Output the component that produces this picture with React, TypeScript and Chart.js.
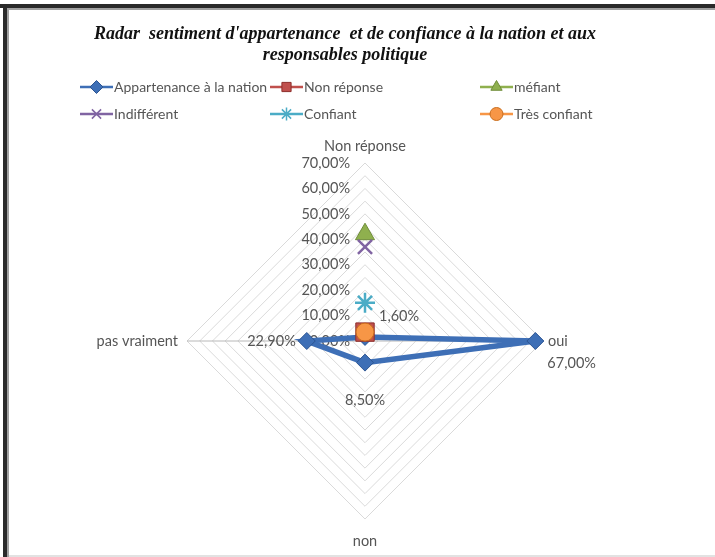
import React, { useEffect, useRef } from 'react';
import { Chart, registerables } from 'chart.js';
import { drawPoint } from 'chart.js/helpers';

Chart.register(...registerables);

const titleLines = [
  "Radar  sentiment d'appartenance  et de confiance à la nation et aux",
  'responsables politique',
];
const categories = ['Non réponse', 'oui', 'non', 'pas vraiment'];
const seriesLabels = [
  'Appartenance à la nation',
  'Non réponse',
  'méfiant',
  'Indifférent',
  'Confiant',
  'Très confiant',
];
const appartenance = [1.6, 67, 8.5, 22.9];
const nonReponse = [3.5, null, null, null];
const mefiant = [42, null, null, null];
const indifferent = [37, null, null, null];
const confiant = [15, null, null, null];
const tresConfiant = [3.5, null, null, null];
const tickValues = [0, 10, 20, 30, 40, 50, 60, 70];

const colors = ['#3e6fb6', '#c0504d', '#8fb04e', '#8064a2', '#4bacc6', '#f79646'];
const borders = ['#2c5592', '#8e2f2c', '#6f8c3a', '#5c4578', '#2f8aa3', '#c96d1c'];
const styles = ['rectRot', 'rect', 'triangle', 'crossRot', 'star', 'circle'];
const radii = [8.5, 13, 11, 10, 10, 9];

const fmt = (v: number) => v.toFixed(2).replace('.', ',') + '%';
const FONT = 'Lato, "Open Sans", sans-serif';
const TEXT = '#555555';
const FS = 14.5;
const LFS = 14;

const decorPlugin = {
  id: 'decor',
  beforeDatasetsDraw(chart: any) {
    const ctx = chart.ctx;
    const s = chart.scales.r;
    ctx.save();
    ctx.font = `${FS}px ${FONT}`;
    ctx.fillStyle = TEXT;
    ctx.textAlign = 'right';
    ctx.textBaseline = 'middle';
    tickValues.forEach((v) => {
      const d = s.getDistanceFromCenterForValue(v);
      ctx.fillText(fmt(v), s.xCenter - 15, s.yCenter - d);
    });
    // point labels
    const r = s.drawingArea;
    const p0 = s.getPointPosition(0, r + 17);
    ctx.textAlign = 'center';
    ctx.fillText(categories[0], p0.x, p0.y);
    const p1 = s.getPointPosition(1, r + 5);
    ctx.textAlign = 'left';
    ctx.fillText(categories[1], p1.x, p1.y);
    const p2 = s.getPointPosition(2, r + 22);
    ctx.textAlign = 'center';
    ctx.fillText(categories[2], p2.x, p2.y);
    const p3 = s.getPointPosition(3, r + 9);
    ctx.textAlign = 'right';
    ctx.fillText(categories[3], p3.x, p3.y);
    ctx.restore();
  },
  afterDraw(chart: any) {
    const ctx = chart.ctx;
    ctx.save();
    // title
    ctx.font = `italic bold 18px "Liberation Serif", serif`;
    ctx.fillStyle = '#111';
    ctx.textAlign = 'center';
    ctx.textBaseline = 'middle';
    ctx.fillText(titleLines[0], 345, 34);
    ctx.fillText(titleLines[1], 345, 55);
    // data labels for first series
    const meta = chart.getDatasetMeta(0);
    ctx.font = `${FS}px ${FONT}`;
    ctx.fillStyle = TEXT;
    const offs = [
      [14, -21, 'left'],
      [12, 22, 'left'],
      [0, 38, 'center'],
      [-11, 0, 'right'],
    ];
    meta.data.forEach((pt: any, i: number) => {
      const [dx, dy, al] = offs[i] as [number, number, CanvasTextAlign];
      ctx.textAlign = al;
      ctx.fillText(fmt(appartenance[i]), pt.x + dx, pt.y + dy);
    });
    // legend
    const cols = [80, 270, 480];
    const rows = [87, 114];
    ctx.font = `${LFS}px ${FONT}`;
    ctx.textAlign = 'left';
    chart.data.datasets.forEach((ds: any, i: number) => {
      const x = cols[i % 3];
      const y = rows[Math.floor(i / 3)];
      ctx.strokeStyle = colors[i];
      ctx.lineWidth = 2.5;
      ctx.beginPath();
      ctx.moveTo(x, y);
      ctx.lineTo(x + 33, y);
      ctx.stroke();
      const thin = styles[i] === 'crossRot' || styles[i] === 'star';
      ctx.fillStyle = colors[i];
      ctx.strokeStyle = thin ? colors[i] : borders[i];
      ctx.lineWidth = thin ? 1.5 : 1;
      drawPoint(ctx, { pointStyle: styles[i], radius: 6.5, rotation: 0, borderWidth: ctx.lineWidth }, x + 16.5, y);
      ctx.fillStyle = TEXT;
      ctx.fillText(ds.label, x + 34, y);
    });
    ctx.restore();
  },
};

export default function App() {
  const ref = useRef<HTMLCanvasElement | null>(null);
  useEffect(() => {
    if (!ref.current) return;
    const series = [appartenance, nonReponse, mefiant, indifferent, confiant, tresConfiant];
    const chart = new Chart(ref.current, {
      type: 'radar',
      data: {
        labels: categories,
        datasets: series.map((d, i) => {
          const thin = styles[i] === 'crossRot' || styles[i] === 'star';
          return {
            label: seriesLabels[i],
            data: d,
            borderColor: colors[i],
            backgroundColor: colors[i],
            borderWidth: i === 0 ? 5.5 : 2.5,
            fill: false,
            pointStyle: styles[i],
            pointRadius: radii[i],
            pointBackgroundColor: colors[i],
            pointBorderColor: thin ? colors[i] : borders[i],
            pointBorderWidth: thin ? 2.5 : 1,
            spanGaps: false,
            order: 6 - i,
          };
        }),
      },
      options: {
        responsive: false,
        animation: false,
        layout: { padding: { left: 187, right: 172, top: 163, bottom: 38 } },
        plugins: {
          legend: { display: false },
          title: { display: false },
          tooltip: { enabled: false },
        },
        scales: {
          r: {
            min: 0,
            max: 70,
            ticks: { display: false, stepSize: 5 },
            pointLabels: { display: false },
            grid: { color: '#dadada', lineWidth: 1 },
            angleLines: {
              display: true,
              color: (c: any) => (c.index === 1 || c.index === 3 ? '#b8b8b8' : 'rgba(0,0,0,0)'),
              lineWidth: 1,
            },
          },
        },
      },
      plugins: [decorPlugin],
    });
    return () => chart.destroy();
  }, []);
  return (
    <div style={{ position: 'absolute', left: 0, top: 0, width: 715, height: 557, background: '#fff', overflow: 'hidden' }}>
      <canvas ref={ref} width={715} height={557} style={{ display: 'block' }} />
      <div style={{ position: 'absolute', left: 0, top: 4, width: 715, height: 4, background: '#2a2a2a' }} />
      <div style={{ position: 'absolute', left: 8, top: 8, width: 707, height: 2, background: '#a0a0a0' }} />
      <div style={{ position: 'absolute', left: 3, top: 4, width: 4, height: 553, background: '#2a2a2a' }} />
      <div style={{ position: 'absolute', left: 7, top: 8, width: 2, height: 549, background: '#a0a0a0' }} />
      <div style={{ position: 'absolute', left: 9, top: 555, width: 706, height: 2, background: '#e2e2e2' }} />
    </div>
  );
}
